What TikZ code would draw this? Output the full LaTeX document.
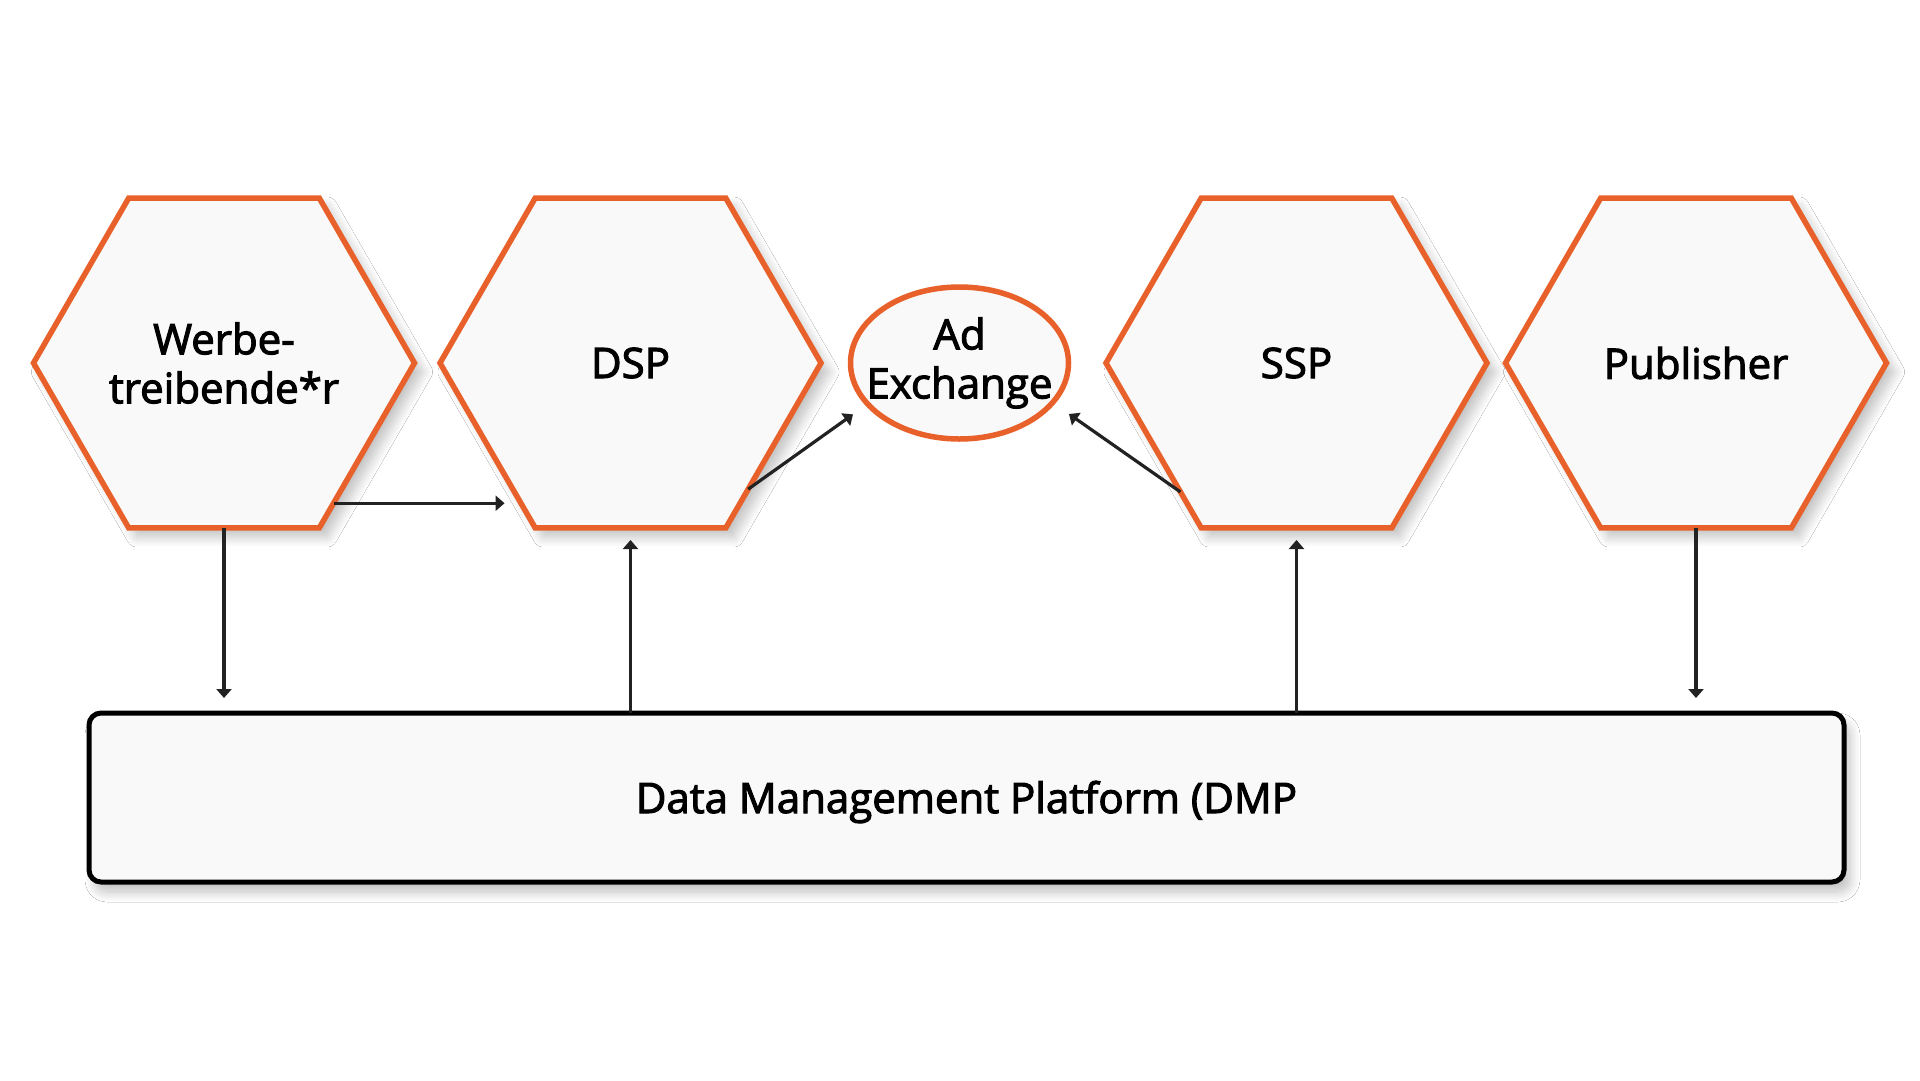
\documentclass[tikz,border=0pt]{standalone}
\usepackage{fontspec}
\setmainfont{Open Sans}
\newfontfamily\lblfont{Open Sans}[FakeBold=2.5]
\usetikzlibrary{shapes.geometric,arrows.meta,calc,shadows.blur}
\definecolor{hexorange}{HTML}{E8602A}
\definecolor{shapefill}{HTML}{F9F9F9}
\definecolor{arrowgray}{HTML}{222222}
\tikzset{
  hexa/.style={regular polygon, regular polygon sides=6,
    minimum size=381pt, inner sep=0pt, outer sep=0pt, draw=hexorange, line width=5.5pt,
    fill=shapefill, blur shadow={shadow xshift=8pt, shadow yshift=-9pt, shadow blur steps=12, shadow opacity=25, shadow blur radius=10pt}},
  exch/.style={ellipse, minimum width=218pt, minimum height=152pt, inner sep=0pt, outer sep=0pt,
    draw=hexorange, line width=5.5pt, fill=shapefill},
  dmpbox/.style={rectangle, rounded corners=12pt, minimum width=1755pt, minimum height=169pt,
    inner sep=0pt, outer sep=0pt, draw=black, line width=5pt, fill=shapefill,
    blur shadow={shadow xshift=6pt, shadow yshift=-10pt, shadow blur steps=12, shadow opacity=25, shadow blur radius=10pt}},
  lbl/.style={align=center, font=\lblfont\fontsize{42}{49}\selectfont, text=black, inner sep=0pt},
  arr/.style={draw=arrowgray, line width=3.2pt, -{Triangle[length=9pt,width=15pt]}},
}
\begin{document}
\begin{tikzpicture}[x=1pt,y=-1pt]
\useasboundingbox[fill=white] (0,0) rectangle (1920,1080);
% DMP box
\node[dmpbox] (dmp) at (966.5,797.5) {};
\node[lbl] (dmpt) at (966.5,802) {Data Management Platform (DMP};
% hexagons
\node[hexa] (w) at (224,363) {};
\node[lbl] (wt) at (224,363) {Werbe-\\treibende*r};
\node[hexa] (d) at (630.5,363) {};
\node[lbl] (dt) at (630.5,363) {DSP};
\node[hexa] (s) at (1296.5,363) {};
\node[lbl] (st) at (1296.5,363) {SSP};
\node[hexa] (p) at (1696,363) {};
\node[lbl] (pt) at (1696,363) {Publisher};
% ad exchange
\node[exch] (a) at (959.5,363) {};
\node[lbl] (at) at (959.5,363) {Ad\\Exchange};
% connectors
\draw[arr] (w.-52) -- ++(171,0);
\draw[arr, shorten >=18pt] (d.-47) -- (a.204);
\draw[arr, shorten >=20pt] (s.228) -- (a.-23);
\draw[arr, shorten >=15pt] (w.south) -- (w.south |- dmp.north);
\draw[arr, shorten >=15pt] (p.south) -- (p.south |- dmp.north);
\draw[arr, shorten >=12pt] (dmp.north -| d.south) -- (d.south);
\draw[arr, shorten >=12pt] (dmp.north -| s.south) -- (s.south);
\end{tikzpicture}
\end{document}
